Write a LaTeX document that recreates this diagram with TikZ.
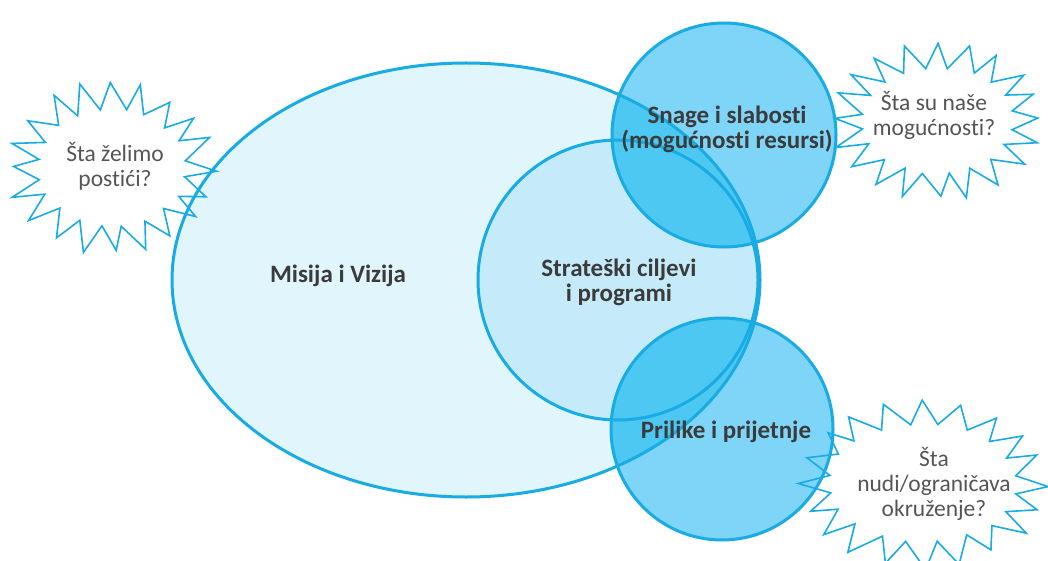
\documentclass[tikz,border=0pt]{standalone}
\usepackage{fontspec}
\setmainfont{Carlito}[Ligatures=NoCommon]
\definecolor{ringblue}{HTML}{19ABE4}
\definecolor{misijafill}{HTML}{E1F5FD}
\definecolor{ciljfill}{HTML}{C5EAF9}
\definecolor{snagefill}{HTML}{7ED5F7}
\definecolor{overlapfill}{HTML}{4CC8F2}
\definecolor{labelgray}{HTML}{3B3B3B}
\definecolor{stargray}{HTML}{555555}

% star outline: center x, center y, outer rx, outer ry, inner rx, inner ry
\newcommand{\questionstar}[6]{%
  \draw[star_line] plot[samples at={0,...,39}, variable=\k]
    ({#1 + (isodd(\k) ? #5 : #3 + 4*rand)*cos(\k*9 + 2.5*rand)},
     {#2 + (isodd(\k) ? #6 : #4 + 4*rand)*sin(\k*9 + 2.5*rand)}) -- cycle;}

\begin{document}
\begin{tikzpicture}[x=1pt, y=-1pt,
    ring_style/.style={draw=ringblue, line width=3pt},
    star_line/.style={draw=ringblue, line width=1.6pt, line join=miter},
    label_style/.style={align=center, text=labelgray,
      font=\bfseries\fontsize{25}{25}\selectfont},
    star_text/.style={align=center, text=stargray,
      font=\fontsize{23.5}{25}\selectfont}]

  \useasboundingbox (0,0) rectangle (1048,561);
  \pgfmathsetseed{42}

  % fills of the rings
  \fill[misijafill] (466,280) ellipse [x radius=294, y radius=217];
  \fill[ciljfill] (618,280) circle [radius=140];
  \fill[snagefill] (724,135) circle [radius=112];
  \fill[snagefill] (722,429) circle [radius=111];
  \begin{scope}
    \clip (466,280) ellipse [x radius=294, y radius=217];
    \fill[overlapfill] (724,135) circle [radius=112];
    \fill[overlapfill] (722,429) circle [radius=111];
  \end{scope}

  % outlines
  \draw[ring_style] (466,280) ellipse [x radius=294, y radius=217];
  \draw[ring_style] (618,280) circle [radius=140];
  \draw[ring_style] (724,135) circle [radius=112];
  \draw[ring_style] (722,429) circle [radius=111];

  \node[label_style] (misija) at (338,276) {Misija i Vizija};
  \node[label_style] (ciljevi) at (619,282) {Strateški ciljevi\\i programi};
  \node[label_style] (snage) at (727,129) {Snage i slabosti\\(mogućnosti resursi)};
  \node[label_style] (prilike) at (726,432) {Prilike i prijetnje};

  % question bubbles
  \questionstar{112}{168}{102}{85}{74}{59}
  \questionstar{937}{121}{104}{79}{76}{53}
  \questionstar{923}{483}{122}{84}{94}{59}
  \node[star_text] (zelimo) at (115,166) {Šta želimo\\postići?};
  \node[star_text] (mogucnosti) at (934,115) {Šta su naše\\mogućnosti?};
  \node[star_text] (okruzenje) at (934,484) {Šta\\nudi/ograničava\\okruženje?};
\end{tikzpicture}
\end{document}
